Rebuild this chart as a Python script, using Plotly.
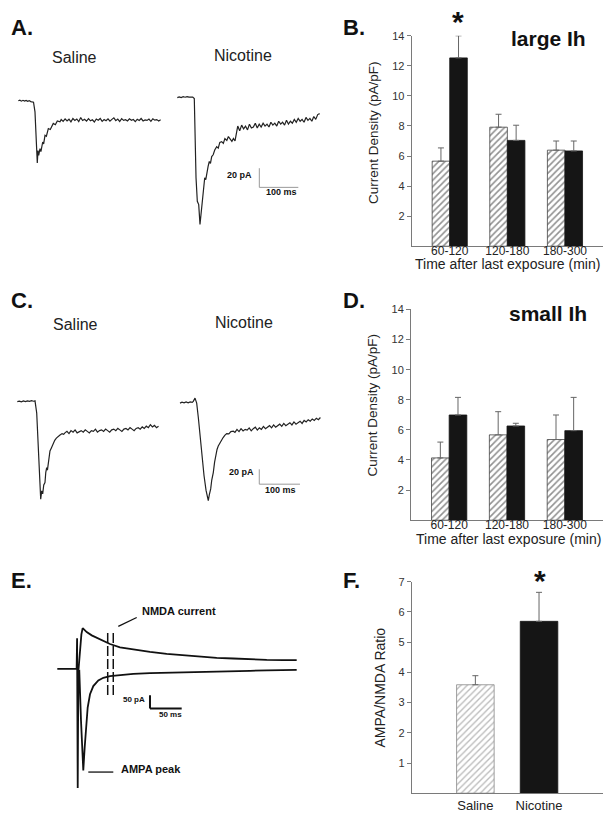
import numpy as np
import plotly.graph_objects as go

W, H = 612, 821
FONT = "Liberation Sans"

# ---------------- bar chart data ----------------
time_bins = ["60-120", "120-180", "180-300"]
large_ih_saline = [5.66, 7.92, 6.39]
large_ih_saline_sem = [0.88, 0.86, 0.61]
large_ih_nicotine = [12.53, 7.04, 6.34]
large_ih_nicotine_sem = [1.47, 1.01, 0.66]
small_ih_saline = [4.14, 5.67, 5.36]
small_ih_saline_sem = [1.05, 1.54, 1.63]
small_ih_nicotine = [6.99, 6.26, 5.95]
small_ih_nicotine_sem = [1.17, 0.18, 2.21]
ratio_groups = ["Saline", "Nicotine"]
ampa_nmda_ratio = [3.59, 5.69]
ampa_nmda_sem = [0.30, 0.96]
density_ticks = [2, 4, 6, 8, 10, 12, 14]
ratio_ticks = [1, 2, 3, 4, 5, 6, 7]

# ---------------- current traces (time ms, current pA) ----------------
# A. large Ih, saline
sal_a_onset = [(0, 0), (4, 0.6), (8, -0.4), (12, 0.5), (16, -0.3), (20, 0.4), (24, -0.6),
               (28, 0.2), (32, -0.8), (36, -1.0), (39, -1.5), (42.8, -11.6), (45, -35),
               (47.2, -56.5), (48.7, -65), (50.5, -52), (52.3, -57), (55.6, -50), (58, -53),
               (62.6, -43), (65, -45), (68.5, -36), (72, -37), (77, -29), (82, -30),
               (89.7, -23.6), (95, -25), (100, -21), (106.9, -22)]
sal_a_tail_start, sal_a_tail_dt = 110, 5
sal_a_tail = [-19.5, -21.5, -18.8, -21.0, -19.2, -22.0, -18.5, -20.5, -19.0, -21.8,
              -17.5, -20.6, -19.3, -21.2, -18.7, -20.9, -19.8, -22.1, -19.0, -20.2,
              -18.4, -21.5, -19.6, -20.8, -18.9, -21.3, -19.4, -17.8, -20.7, -19.1,
              -21.6, -18.6, -20.4, -19.7, -21.1, -18.8, -20.3, -19.5, -21.7, -19.2,
              -20.6, -18.5, -21.0, -19.9, -20.5, -19.1, -21.4, -18.7, -20.2, -19.6,
              -21.0, -19.8]
# A. large Ih, nicotine
nic_a_onset = [(0, -0.3), (5, 0.5), (10, -0.2), (15, 0.6), (20, 0.1), (25, 0.8), (30, 0.2),
               (35, 0.6), (39.5, 0.3), (43.6, -1.3), (48, -84), (51.3, -108.5), (54.9, -112),
               (58.2, -132.6), (61.6, -118.8), (65.1, -98), (68, -92), (70.3, -84), (73, -86),
               (75.4, -79), (79, -72), (82, -67), (85, -69), (88.2, -61.8), (92, -60), (96, -55),
               (101, -51.5), (105, -53), (109, -47), (113.8, -46.3), (118, -48), (122, -43),
               (127, -45), (131, -41), (135, -42.8), (140, -46), (144, -43), (148, -45.6)]
nic_a_tail_start, nic_a_tail_dt = 150, 5
nic_a_tail = [-41, -30, -35, -29, -33, -30, -34, -28, -32, -31, -27, -32, -28, -31, -27,
              -30, -28, -31, -26, -29, -27, -30, -25, -28, -26, -29, -24, -28, -25, -27,
              -23, -26, -22, -25, -23, -26, -21, -24, -22, -25, -20, -23, -18, -17]
# C. small Ih, saline
sal_c_onset = [(0, 0), (5, 0.6), (10, -0.4), (15, 0.8), (20, 0), (25, 1), (30, 0.3), (35, 1.2),
               (40, 0.5), (43.5, 1), (47.7, -15.3), (51.6, -68.7), (55, -110), (57.5, -131),
               (60, -120), (62.4, -124), (65, -112), (68, -108.7), (70, -95), (72.2, -88.7),
               (74, -92), (76.2, -82), (78, -75), (80.3, -66.4), (84, -62), (88.5, -55.3),
               (92, -52), (96, -49), (100.7, -46.4), (105, -45), (110, -43), (114, -44)]
sal_c_tail_start, sal_c_tail_dt = 117, 5
sal_c_tail = [-42, -40, -43, -39, -41, -38, -42, -40, -39, -41, -38, -40, -42, -39, -40, -37,
              -41, -39, -38, -40, -37, -39, -41, -38, -37, -39, -36, -38, -40, -37, -36, -38,
              -35, -37, -39, -36, -35, -37, -34, -36, -33, -35, -31, -34, -32, -35, -33]
# C. small Ih, nicotine
nic_c_onset = [(0, -0.7), (5, 0.5), (10, -0.3), (15, 0.9), (20, -0.2), (25, 1), (30, 0.4),
               (32.7, 1.6), (36.9, 6), (41, -0.7), (45, -20), (49, -45), (54, -72), (59, -98),
               (64, -118), (69.5, -131.7), (72, -124), (75.4, -116), (78, -104), (81.8, -94),
               (85, -80), (88.5, -67), (91, -63), (94, -58.4), (98, -54), (102.4, -49.6),
               (106, -47), (110, -44), (114.7, -41.6), (120, -42), (125, -39), (131, -38.4)]
nic_c_tail_start, nic_c_tail_dt = 135, 5
nic_c_tail = [-40, -36, -39, -35, -38, -36, -37, -34, -38, -35, -33, -37, -34, -36, -32, -35,
              -33, -31, -34, -30, -33, -31, -29, -32, -28, -31, -29, -27, -30, -26, -29, -27,
              -25, -28, -24, -26, -23, -25, -22, -24, -21, -23, -20]
# E. AMPA (-70 mV, with stimulus artifact) and NMDA (+40 mV) currents
ampa_trace = [(0, 0), (10, 0.5), (20, -0.5), (30.5, 0), (31.2, 115), (32.2, -450), (33.2, -10),
              (34.7, -8.6), (37.4, -196), (39.4, -346), (41, -383), (43.2, -296), (45.3, -208),
              (47.9, -146), (51.6, -96), (56.8, -65), (64.7, -43.6), (72.6, -33.7), (83.1, -27.3),
              (98.9, -22.5), (119.9, -18.7), (146.2, -16), (172.6, -15), (198.7, -13),
              (225, -11), (251.4, -10), (277.6, -8.6), (304, -7.5), (330.3, -6), (356.5, -5),
              (377.6, -3.7)]
nmda_trace = [(33.2, -10), (35.5, 60), (38, 130), (40, 153.6), (46.4, 138.6), (54.3, 126.2),
              (67.4, 110.1), (83.1, 93.6), (98.9, 81.3), (119.9, 72.7), (146.2, 63.7),
              (172.6, 56.2), (198.7, 51.3), (225.1, 44.9), (251.4, 41.2), (277.6, 38.9),
              (304, 35.2), (330.3, 33.7), (356.5, 32.6), (377.6, 32.6)]


def assemble(onset, tail_start, tail_dt, tail):
    t = [p[0] for p in onset] + list(tail_start + tail_dt * np.arange(len(tail)))
    i = [p[1] for p in onset] + list(tail)
    return t, i


def pairs(pts):
    return [p[0] for p in pts], [p[1] for p in pts]


# ---------------- layout helpers (pixel -> paper) ----------------
def px(x):
    return x / W


def py(y):
    return 1 - y / H


fig = go.Figure()

# ---------------- bar panels ----------------
hatch = dict(shape="/", fgcolor="#222222", bgcolor="white", size=4.5, solidity=0.35)
hatch_light = dict(shape="/", fgcolor="#777777", bgcolor="white", size=4.5, solidity=0.3)
err_style = dict(type="data", symmetric=False, color="#666666", thickness=1, width=3)

for ax, sal, sal_sem, nic, nic_sem in [("", large_ih_saline, large_ih_saline_sem,
                                         large_ih_nicotine, large_ih_nicotine_sem),
                                        ("2", small_ih_saline, small_ih_saline_sem,
                                         small_ih_nicotine, small_ih_nicotine_sem)]:
    fig.add_trace(go.Bar(x=time_bins, y=sal, xaxis="x" + ax, yaxis="y" + ax,
                         marker=dict(color="white", line=dict(color="#444444", width=0.8),
                                     pattern=hatch),
                         error_y=dict(err_style, array=sal_sem, arrayminus=[0] * len(sal))))
    fig.add_trace(go.Bar(x=time_bins, y=nic, xaxis="x" + ax, yaxis="y" + ax,
                         marker=dict(color="#151515", line=dict(color="#151515", width=0.8)),
                         error_y=dict(err_style, array=nic_sem, arrayminus=[0] * len(nic))))

fig.add_trace(go.Bar(x=ratio_groups[:1], y=ampa_nmda_ratio[:1], xaxis="x3", yaxis="y3",
                     width=0.59, offsetgroup="f",
                     marker=dict(color="white", line=dict(color="#888888", width=0.8),
                                 pattern=hatch_light),
                     error_y=dict(err_style, array=ampa_nmda_sem[:1], arrayminus=[0])))
fig.add_trace(go.Bar(x=ratio_groups[1:], y=ampa_nmda_ratio[1:], xaxis="x3", yaxis="y3",
                     width=0.59, offsetgroup="f",
                     marker=dict(color="#151515", line=dict(color="#151515", width=0.8)),
                     error_y=dict(err_style, array=ampa_nmda_sem[1:], arrayminus=[0])))

# ---------------- trace panels ----------------
trace_axes = {
    4: dict(origin=(18.3, 95.5), scale=(0.39, 0.965), box=((5, 172), (45, 240))),
    5: dict(origin=(177.3, 92.0), scale=(0.39, 0.965), box=((172, 335), (45, 240))),
    6: dict(origin=(17.3, 398.5), scale=(0.407, 0.75), box=((5, 172), (335, 520))),
    7: dict(origin=(180.0, 399.5), scale=(0.407, 0.75), box=((172, 335), (335, 520))),
    8: dict(origin=(57.3, 667.7), scale=(0.634, 0.267), box=((40, 330), (600, 800))),
}

trace_sets = [
    (4, assemble(sal_a_onset, sal_a_tail_start, sal_a_tail_dt, sal_a_tail), "#222222", 1.2),
    (5, assemble(nic_a_onset, nic_a_tail_start, nic_a_tail_dt, nic_a_tail), "#222222", 1.2),
    (6, assemble(sal_c_onset, sal_c_tail_start, sal_c_tail_dt, sal_c_tail), "#222222", 1.2),
    (7, assemble(nic_c_onset, nic_c_tail_start, nic_c_tail_dt, nic_c_tail), "#222222", 1.2),
    (8, pairs(ampa_trace), "#111111", 1.8),
    (8, pairs(nmda_trace), "#111111", 1.8),
]
for n, (t, i), col, lw in trace_sets:
    fig.add_trace(go.Scatter(x=t, y=i, mode="lines", xaxis=f"x{n}", yaxis=f"y{n}",
                             line=dict(color=col, width=lw), hoverinfo="skip"))

layout_axes = {}
for n, spec in trace_axes.items():
    (ox, oy), (sx, sy), ((x0, x1), (y0, y1)) = spec["origin"], spec["scale"], spec["box"]
    layout_axes[f"xaxis{n}"] = dict(domain=[px(x0), px(x1)], range=[(x0 - ox) / sx, (x1 - ox) / sx],
                                    visible=False, anchor=f"y{n}")
    layout_axes[f"yaxis{n}"] = dict(domain=[py(y1), py(y0)], range=[(oy - y1) / sy, (oy - y0) / sy],
                                    visible=False, anchor=f"x{n}")

axis_line = dict(showline=True, linecolor="#7a7a7a", linewidth=1, showgrid=False, zeroline=False)
ybar = dict(axis_line, ticks="outside", ticklen=4, tickcolor="#7a7a7a", tickwidth=1,
            tickfont=dict(size=11, color="#333333", family=FONT))
xbar = dict(axis_line, ticks="", tickfont=dict(size=12, color="#222222", family=FONT),
            ticklabelstandoff=-7)

layout_axes["xaxis"] = dict(xbar, domain=[px(411.7), px(603)], range=[-0.66, 2.66], anchor="y")
layout_axes["yaxis"] = dict(ybar, domain=[py(242), py(30)], range=[0, 14], tickvals=density_ticks, anchor="x")
layout_axes["xaxis2"] = dict(xbar, domain=[px(411), px(603)], range=[-0.66, 2.66], anchor="y2")
layout_axes["yaxis2"] = dict(ybar, domain=[py(518), py(305.7)], range=[0, 14], tickvals=density_ticks, anchor="x2")
layout_axes["xaxis3"] = dict(axis_line, ticks="", domain=[px(411.7), px(602.7)], range=[-1, 2], anchor="y3",
                             tickfont=dict(size=13, color="#222222", family=FONT))
layout_axes["yaxis3"] = dict(ybar, domain=[py(793), py(580)], range=[0, 7], tickvals=ratio_ticks, anchor="x3")

# ---------------- shapes: scale bars, markers, pointers ----------------
shapes = []


def seg(x0, y0, x1, y1, ref, color, width, dash=None):
    d = dict(type="line", x0=x0, y0=y0, x1=x1, y1=y1, line=dict(color=color, width=width))
    if dash:
        d["line"]["dash"] = dash
    if ref == "paper":
        d.update(xref="paper", yref="paper", x0=px(x0), x1=px(x1), y0=py(y0), y1=py(y1))
    else:
        d.update(xref="x" + ref, yref="y" + ref)
    shapes.append(d)


# scale bars (time ms, current pA in each panel's own units)
seg(210.3, -74, 210.3, -94, "5", "#9a9a9a", 1)
seg(210.3, -94, 310.3, -94, "5", "#9a9a9a", 1)
seg(194.8, -89.6, 194.8, -109.6, "7", "#9a9a9a", 1)
seg(194.8, -109.6, 294.8, -109.6, "7", "#9a9a9a", 1)
seg(146.2, -99.6, 146.2, -149.6, "8", "#111111", 2)
seg(146.2, -149.6, 196.2, -149.6, "8", "#111111", 2)
# NMDA measurement window
seg(79.5, 135, 79.5, -102, "8", "#111111", 1.5, dash="10px,3px")
seg(88.3, 135, 88.3, -102, "8", "#111111", 1.5, dash="10px,3px")
# pointer lines
seg(118.3, 625, 136.7, 616, "paper", "#111111", 1.3)
seg(88.3, 771.7, 113.3, 771.7, "paper", "#111111", 1.3)

# ---------------- annotations ----------------
anns = []


def text(s, x, y, size, bold=False, xanchor="center", angle=0, color="#111111"):
    anns.append(dict(text=f"<b>{s}</b>" if bold else s, x=px(x), y=py(y), xref="paper",
                     yref="paper", xanchor=xanchor, yanchor="middle", showarrow=False,
                     textangle=angle, font=dict(size=size, color=color, family=FONT)))


for lab, x, y in [("A.", 9, 22), ("B.", 341, 22), ("C.", 9, 297), ("D.", 341, 297),
                  ("E.", 9, 579), ("F.", 341, 579)]:
    text(lab, x, y, 22, bold=True, xanchor="left")

text("Saline", 74.5, 52, 16, color="#222222")
text("Nicotine", 243.3, 50, 16, color="#222222")
text("Saline", 75.8, 321, 16, color="#222222")
text("Nicotine", 244, 319, 16, color="#222222")

text("20 pA", 253.5, 170.6, 9, bold=True, xanchor="right")
text("100 ms", 264, 187.3, 9, bold=True, xanchor="left")
text("20 pA", 256, 469, 9, bold=True, xanchor="right")
text("100 ms", 263, 488, 9, bold=True, xanchor="left")
text("50 pA", 146.7, 698.6, 8, bold=True, xanchor="right")
text("50 ms", 156.5, 713.6, 8, bold=True, xanchor="left")
text("NMDA current", 140, 609, 11, bold=True, xanchor="left")
text("AMPA peak", 119, 768.7, 11, bold=True, xanchor="left")

text("large Ih", 548.3, 33.2, 21, bold=True)
text("small Ih", 547.8, 309.4, 21, bold=True)
text("*", 457.5, 15.6, 30, bold=True)
text("*", 540, 579, 30, bold=True)

text("Current Density (pA/pF)", 373, 128, 13.5, angle=-90, color="#222222")
text("Current Density (pA/pF)", 373, 402.5, 13.5, angle=-90, color="#222222")
text("AMPA/NMDA Ratio", 379.5, 687, 14, angle=-90, color="#222222")
text("Time after last exposure (min)", 507.5, 260, 14, color="#222222")
text("Time after last exposure (min)", 508, 537, 14, color="#222222")

fig.update_layout(width=W, height=H, margin=dict(l=0, r=0, t=0, b=0),
                  paper_bgcolor="white", plot_bgcolor="white", showlegend=False,
                  barmode="group", bargap=0.39, bargroupgap=0, hovermode=False,
                  font=dict(family=FONT), shapes=shapes, annotations=anns, **layout_axes)

fig.write_html("out.html", config={"displayModeBar": False, "staticPlot": True},
               post_script="document.body.style.margin='0px';document.body.style.padding='0px';")
